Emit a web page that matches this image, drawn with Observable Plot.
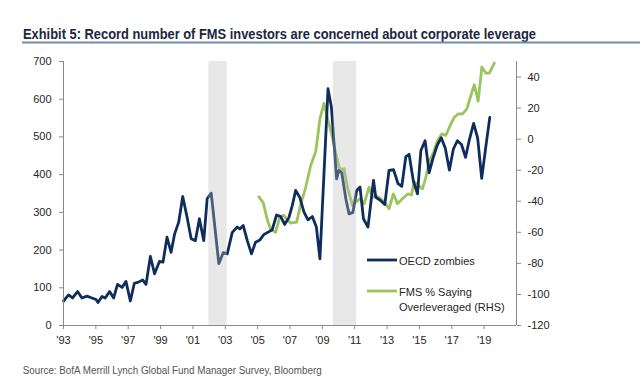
<!DOCTYPE html>
<html>
<head>
<meta charset="utf-8">
<script src="https://cdn.jsdelivr.net/npm/d3@7"></script>
<script src="https://cdn.jsdelivr.net/npm/@observablehq/plot@0.6"></script>
<style>
  html, body { margin: 0; padding: 0; background: #fff; }
  #wrap { position: relative; width: 640px; height: 389px; overflow: hidden; }
  #wrap svg { position: absolute; left: 0; top: 0; }
  #overlay { pointer-events: none; }
</style>
</head>
<body>
<div id="wrap"></div>
<script>
// ---- Data ----
const titleText = "Exhibit 5: Record number of FMS investors are concerned about corporate leverage";
const sourceText = "Source:  BofA Merrill Lynch Global Fund Manager Survey, Bloomberg";
const navyLabel = "OECD zombies";
const greenLabel1 = "FMS % Saying";
const greenLabel2 = "Overleveraged (RHS)";

// OECD zombies (left axis)
const zombieYears = [
  1993.00,1993.31,1993.56,1993.87,1994.14,1994.45,1994.76,1995.01,1995.13,1995.38,
  1995.58,1995.85,1996.10,1996.34,1996.62,1996.86,1997.13,1997.38,1997.64,1997.89,
  1998.10,1998.37,1998.63,1998.93,1999.15,1999.40,1999.65,1999.87,2000.12,2000.37,
  2000.64,2000.89,2001.15,2001.40,2001.67,2001.88,2002.13,2002.60,2002.87,2003.12,
  2003.43,2003.74,2003.90,2004.11,2004.36,2004.62,2004.87,2005.14,2005.38,2005.63,
  2005.90,2006.17,2006.42,2006.67,2006.93,2007.14,2007.35,2007.61,2007.86,2008.11,
  2008.38,2008.63,2008.85,2009.35,2009.56,2009.88,2010.02,2010.20,2010.45,2010.65,
  2010.89,2011.12,2011.33,2011.54,2011.82,2012.16,2012.30,2012.61,2012.86,2013.12,
  2013.40,2013.68,2013.91,2014.16,2014.36,2014.63,2014.88,2015.09,2015.35,2015.60,
  2015.85,2016.10,2016.35,2016.60,2016.85,2017.10,2017.35,2017.60,2017.85,2018.10,
  2018.35,2018.60,2018.85,2019.10,2019.35
];
const zombieValues = [
  65,81,73,90,73,78,73,69,61,77,
  73,90,73,109,101,117,65,112,115,121,
  109,183,137,170,168,234,194,243,274,342,
  287,230,225,283,225,336,351,164,193,190,
  247,261,256,265,225,190,221,227,241,247,
  254,293,289,268,286,318,358,339,301,280,
  289,261,177,628,579,389,411,405,336,296,
  300,358,367,283,261,385,340,331,321,411,
  413,376,369,448,454,382,349,464,490,405,
  445,478,498,470,412,468,490,480,446,495,
  536,497,390,473,552
];

// FMS % saying overleveraged (right axis)
const fmsYears = [
  2005.07,2005.35,2005.60,2005.80,2006.11,2006.37,2006.62,2006.83,2007.04,2007.41,
  2007.66,2007.97,2008.28,2008.59,2008.85,2009.10,2009.31,2009.59,2009.82,2010.03,
  2010.18,2010.34,2010.55,2010.86,2011.06,2011.33,2011.58,2011.89,2012.10,2012.30,
  2012.61,2012.92,2013.12,2013.39,2013.64,2013.95,2014.30,2014.51,2014.67,2014.92,
  2015.19,2015.40,2015.60,2015.87,2016.12,2016.39,2016.63,2016.90,2017.15,2017.40,
  2017.67,2017.93,2018.18,2018.39,2018.63,2018.86,2019.11,2019.32,2019.63
];
const fmsValues = [
  -37,-41,-52,-58,-60,-50,-49,-52,-54,-53.5,
  -42,-31,-17,-8,13,23,14,2.4,-8.4,-18,
  -20,-19,-31,-42.7,-40.6,-38.4,-41.6,-30.9,-37.4,-36.3,
  -38.4,-41.6,-44.9,-35.2,-41.6,-38.4,-35.2,-36,-27.3,-29.8,
  -32,-24.5,-14.8,-8.4,-0.9,3.4,2.4,8.8,14.1,16.3,
  16.3,19.5,28.1,35,24.5,46.5,42.5,42.5,49
];

// shaded periods
const shadeStart = [2001.98, 2009.68];
const shadeEnd   = [2003.12, 2011.12];

// axes
const xDomain = [1993, 2021];
const xTicks = [1993,1995,1997,1999,2001,2003,2005,2007,2009,2011,2013,2015,2017,2019];
const xTickLabels = ["'93","'95","'97","'99","'01","'03","'05","'07","'09","'11","'13","'15","'17","'19"];
const leftDomain = [0, 700];
const leftTicks = [0,100,200,300,400,500,600,700];
const rightDomain = [-120, 50];
const rightTicks = [-120,-100,-80,-60,-40,-20,0,20,40];

// colours
const navy = "#0f2d5c";
const green = "#9cc45c";
const axisGray = "#8a8a8a";
const textColor = "#262626";

// ---- Build ----
const toLeft = r => (r - rightDomain[0]) * (leftDomain[1] - leftDomain[0]) / (rightDomain[1] - rightDomain[0]) + leftDomain[0];
const fromLeft = v => (v - leftDomain[0]) * (rightDomain[1] - rightDomain[0]) / (leftDomain[1] - leftDomain[0]) + rightDomain[0];

const zombies = zombieYears.map((x, i) => ({x, v: zombieValues[i]}));
const fms = fmsYears.map((x, i) => ({x, v: fmsValues[i]}));
const shades = shadeStart.map((s, i) => ({s, e: shadeEnd[i]}));

const chart = Plot.plot({
  width: 640,
  height: 389,
  marginTop: 61,
  marginBottom: 64,
  marginLeft: 63,
  marginRight: 124,
  x: {domain: xDomain},
  y: {domain: leftDomain},
  style: {fontFamily: "'Liberation Sans', Arial, sans-serif", fontSize: "11px", color: textColor, background: "transparent"},
  marks: [
    Plot.line(fms, {x: "x", y: d => toLeft(d.v), stroke: green, strokeWidth: 2.8, strokeLinejoin: "round"}),
    Plot.line(zombies, {x: "x", y: "v", stroke: navy, strokeWidth: 2.8, strokeLinejoin: "round"}),
    Plot.rect(shades, {x1: "s", x2: "e", y1: leftDomain[0], y2: leftDomain[1], fill: "#bcbcbc", fillOpacity: 0.34}),
    Plot.ruleX([xDomain[0], xDomain[1]], {stroke: axisGray, strokeWidth: 1}),
    Plot.ruleY([leftDomain[0]], {stroke: axisGray, strokeWidth: 1}),
    Plot.axisY(leftTicks, {anchor: "left", tickSize: 4, tickPadding: 8, stroke: axisGray, fill: textColor, label: null}),
    Plot.axisY(rightTicks.map(toLeft), {anchor: "right", tickSize: 4, tickPadding: 7, stroke: axisGray, fill: textColor, label: null,
      tickFormat: d => String(Math.round(fromLeft(d)))}),
    Plot.axisX(xTicks, {anchor: "bottom", tickSize: 4, tickPadding: 7, stroke: axisGray, fill: textColor, label: null,
      tickFormat: d => xTickLabels[xTicks.indexOf(d)]})
  ]
});
document.getElementById("wrap").appendChild(chart);

// ---- Overlay: title, legend, source ----
const ns = "http://www.w3.org/2000/svg";
const ov = document.createElementNS(ns, "svg");
ov.setAttribute("id", "overlay");
ov.setAttribute("width", 640);
ov.setAttribute("height", 389);
function add(tag, attrs, text) {
  const el = document.createElementNS(ns, tag);
  for (const k in attrs) el.setAttribute(k, attrs[k]);
  if (text != null) el.textContent = text;
  ov.appendChild(el);
  return el;
}
add("text", {x: 23, y: 38.5, "font-family": "'Liberation Sans Narrow', 'Liberation Sans', Arial, sans-serif",
  "font-weight": "bold", "font-size": 14.5, fill: "#1c2640", textLength: 513, lengthAdjust: "spacingAndGlyphs"}, titleText);
add("line", {x1: 22, x2: 640, y1: 42.5, y2: 42.5, stroke: "#6f8cb4", "stroke-width": 2});

add("line", {x1: 367, x2: 397, y1: 260, y2: 260, stroke: navy, "stroke-width": 2.8});
add("text", {x: 399, y: 264.5, "font-family": "'Liberation Sans', Arial, sans-serif", "font-size": 11, fill: textColor}, navyLabel);
add("line", {x1: 367, x2: 397, y1: 291, y2: 291, stroke: green, "stroke-width": 2.8});
add("text", {x: 399, y: 295.5, "font-family": "'Liberation Sans', Arial, sans-serif", "font-size": 11, fill: textColor}, greenLabel1);
add("text", {x: 399, y: 311, "font-family": "'Liberation Sans', Arial, sans-serif", "font-size": 11, fill: textColor}, greenLabel2);

add("text", {x: 22.7, y: 374.3, "font-family": "'Liberation Sans Narrow', 'Liberation Sans', Arial, sans-serif",
  "font-size": 10, fill: "#555", textLength: 299, lengthAdjust: "spacingAndGlyphs"}, sourceText);
document.getElementById("wrap").appendChild(ov);
</script>
</body>
</html>
